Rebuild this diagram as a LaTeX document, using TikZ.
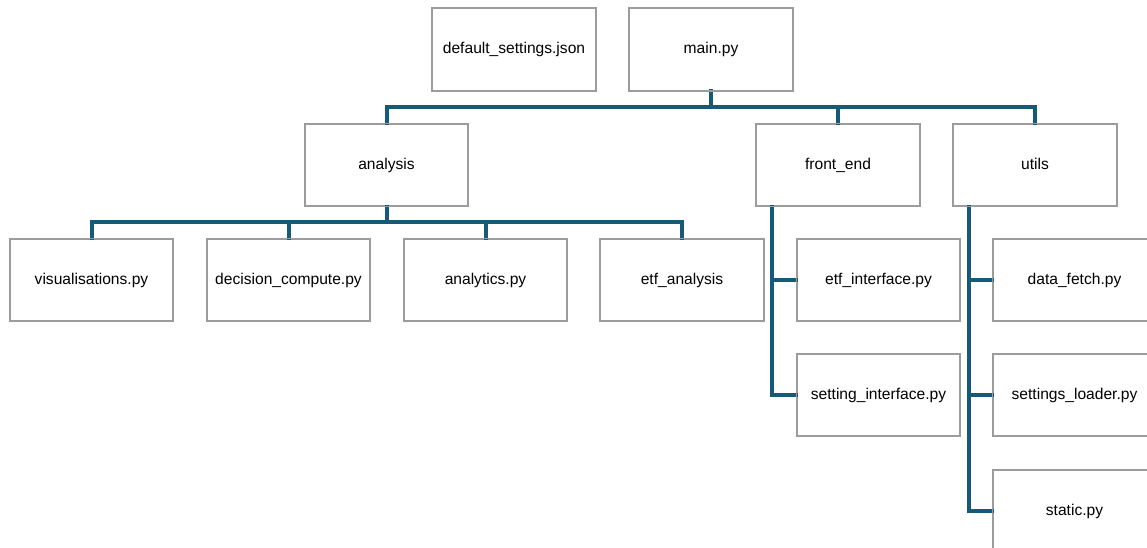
\documentclass[tikz,border=0pt]{standalone}
\usepackage{fontspec}
\setmainfont{Liberation Sans}
\definecolor{conncol}{HTML}{155A78}
\definecolor{boxcol}{HTML}{9C9C9C}
\begin{document}
\begin{tikzpicture}[x=1pt,y=-1pt,
  filebox/.style={draw=boxcol,line width=1.3pt,fill=white,minimum width=163pt,minimum height=82pt,inner sep=0pt,text height=11.5pt,text depth=3.5pt,font=\fontsize{15.6}{18}\selectfont},
  conn/.style={draw=conncol,line width=4pt,line join=miter,line cap=rect}]
\useasboundingbox (0,0) rectangle (1147,548);
\clip (0,0) rectangle (1147,548);
\fill[white] (0,0) rectangle (1147,548);
\coordinate (bus1) at (0,107);
\coordinate (bus2) at (0,222);
\coordinate (fetrunk) at (772,0);
\coordinate (uttrunk) at (969,0);
% nodes
\node[filebox] (defset) at (514,49.5) {default\_settings.json};
\node[filebox] (main) at (711,49.5) {main.py};
\node[filebox] (analysis) at (386.5,165) {analysis};
\node[filebox] (frontend) at (838,165) {front\_end};
\node[filebox] (utils) at (1035,165) {utils};
\node[filebox] (vis) at (91.5,280) {visualisations.py};
\node[filebox] (dec) at (288.5,280) {decision\_compute.py};
\node[filebox] (ana) at (485.5,280) {analytics.py};
\node[filebox] (etfa) at (682,280) {etf\_analysis};
\node[filebox] (etfi) at (878.5,280) {etf\_interface.py};
\node[filebox] (seti) at (878.5,395) {setting\_interface.py};
\node[filebox] (dataf) at (1074.5,280) {data\_fetch.py};
\node[filebox] (setl) at (1074.5,395) {settings\_loader.py};
\node[filebox] (static) at (1074.5,511) {static.py};
% level 1
\draw[conn] (main.south) -- (main.south |- bus1);
\draw[conn] (analysis.north) |- (utils.north |- bus1) -- (utils.north);
\draw[conn] (frontend.north) -- (frontend.north |- bus1);
% level 2 analysis
\draw[conn] (analysis.south) -- (analysis.south |- bus2);
\draw[conn] (vis.north) |- (etfa.north |- bus2) -- (etfa.north);
\draw[conn] (dec.north) -- (dec.north |- bus2);
\draw[conn] (ana.north) -- (ana.north |- bus2);
% front_end
\draw[conn] (fetrunk |- frontend.south) |- (seti.west);
\draw[conn] (fetrunk |- etfi.west) -- (etfi.west);
% utils
\draw[conn] (uttrunk |- utils.south) |- (static.west);
\draw[conn] (uttrunk |- dataf.west) -- (dataf.west);
\draw[conn] (uttrunk |- setl.west) -- (setl.west);
% box borders on top of connector ends
\foreach \n in {defset,main,analysis,frontend,utils,vis,dec,ana,etfa,etfi,seti,dataf,setl,static}
  \draw[boxcol,line width=1.3pt] (\n.north west) rectangle (\n.south east);
\end{tikzpicture}
\end{document}
